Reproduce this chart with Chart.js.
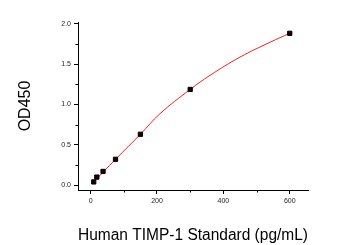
<!DOCTYPE html>
<html><head><meta charset="utf-8">
<script src="https://cdn.jsdelivr.net/npm/chart.js@4"></script>
<style>html,body{margin:0;padding:0;background:#fff}#wrap{width:356px;height:245px}</style>
</head><body><div id="wrap"><canvas id="c" width="356" height="245"></canvas></div>
<script>
const concentrations = [9.375, 18.75, 37.5, 75, 150, 300, 600];
const od450 = [0.04, 0.10, 0.17, 0.32, 0.63, 1.185, 1.88];
// fitted standard curve
const fitX = [9.375, 75, 150, 209, 300, 360, 450, 541, 600];
const fitY = [0.04, 0.32, 0.63, 0.885, 1.185, 1.36, 1.585, 1.77, 1.88];
const xMajorTicks = [0, 200, 400, 600];
const xMinorTicks = [100, 300, 500];
const yMajorTicks = [0, 0.5, 1.0, 1.5, 2.0];
const yMinorTicks = [0.25, 0.75, 1.25, 1.75];
const xTitle = 'Human TIMP-1 Standard (pg/mL)';
const yTitle = 'OD450';

const points = concentrations.map((c, i) => ({x: c, y: od450[i]}));
const fitPoints = fitX.map((c, i) => ({x: c, y: fitY[i]}));

const minorTickPlugin = {
  id: 'minorTicks',
  afterDraw(chart) {
    const ctx = chart.ctx, xs = chart.scales.x, ys = chart.scales.y;
    ctx.save();
    ctx.strokeStyle = '#000';
    ctx.lineWidth = 1;
    ctx.beginPath();
    xMinorTicks.forEach(v => {
      const px = Math.round(xs.getPixelForValue(v)) + 0.5;
      ctx.moveTo(px, xs.top); ctx.lineTo(px, xs.top + 2.5);
    });
    yMinorTicks.forEach(v => {
      const py = Math.round(ys.getPixelForValue(v)) + 0.5;
      ctx.moveTo(ys.right, py); ctx.lineTo(ys.right - 2.5, py);
    });
    ctx.stroke();
    ctx.restore();
  }
};

new Chart(document.getElementById('c'), {
  type: 'scatter',
  data: {
    datasets: [
      {
        data: fitPoints, showLine: true, borderColor: '#ff1a1a', borderWidth: 1,
        pointRadius: 0, tension: 0.4, order: 2
      },
      {
        data: points, showLine: false, pointStyle: 'rect', pointRadius: 3,
        backgroundColor: '#1a0000', borderColor: '#000', borderWidth: 1, order: 1
      }
    ]
  },
  options: {
    responsive: false, animation: false, devicePixelRatio: 1,
    layout: {padding: {left: 10, top: 22, right: 48, bottom: 0}},
    plugins: {legend: {display: false}, tooltip: {enabled: false}},
    scales: {
      x: {
        type: 'linear', min: -38, max: 655,
        afterBuildTicks: s => { s.ticks = xMajorTicks.map(v => ({value: v})); },
        afterFit: s => { s.height = 55; },
        grid: {drawOnChartArea: false, drawTicks: true, tickLength: 4, color: '#000'},
        border: {display: true, color: '#000', width: 1},
        ticks: {font: {family: 'Liberation Sans', size: 7}, color: '#222', padding: 3, maxRotation: 0,
                callback: v => String(v)},
        title: {display: true, text: xTitle, font: {family: 'Liberation Sans', size: 16}, color: '#000',
                padding: {top: 18, bottom: 0}}
      },
      y: {
        type: 'linear', min: -0.06, max: 2.02,
        afterBuildTicks: s => { s.ticks = yMajorTicks.map(v => ({value: v})); },
        afterFit: s => { s.width = 68; },
        grid: {drawOnChartArea: false, drawTicks: true, tickLength: 4, color: '#000'},
        border: {display: true, color: '#000', width: 1},
        ticks: {font: {family: 'Liberation Sans', size: 7}, color: '#222', padding: 3,
                callback: v => v.toFixed(1)},
        title: {display: true, text: yTitle, font: {family: 'Liberation Sans', size: 16}, color: '#000',
                padding: {top: 6, bottom: 0}}
      }
    }
  },
  plugins: [minorTickPlugin]
});
</script></body></html>
